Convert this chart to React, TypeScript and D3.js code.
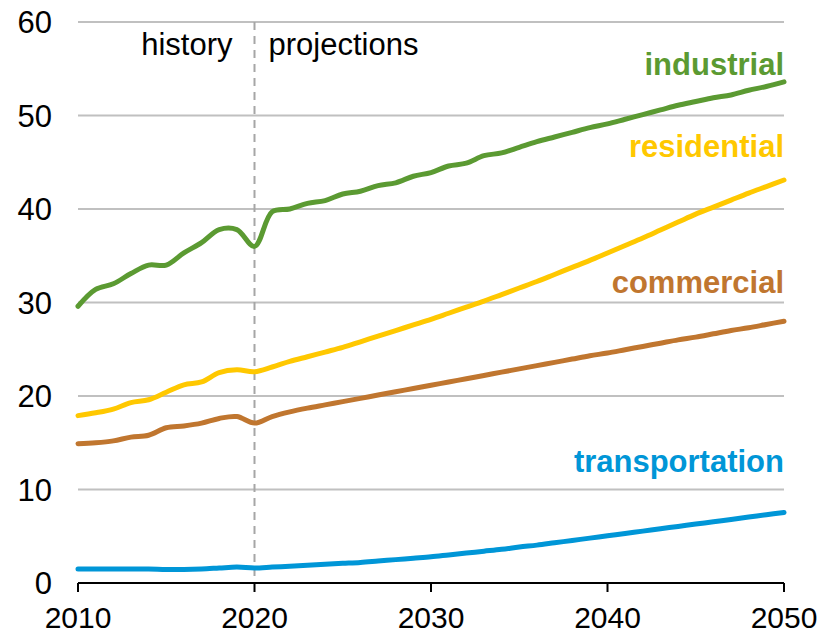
import React from 'react';
import * as d3 from 'd3';

const years = d3.range(2010, 2051);

const industrial = [29.6, 31.4, 32.0, 33.1, 34.0, 34.0, 35.3, 36.4, 37.8, 37.8, 36.0,
  39.7, 40.0, 40.6, 40.9, 41.6, 41.9, 42.5, 42.8, 43.5, 43.9, 44.6, 44.9, 45.7, 46.0,
  46.6, 47.2, 47.7, 48.2, 48.7, 49.1, 49.6, 50.1, 50.6, 51.1, 51.5, 51.9, 52.2, 52.7, 53.1, 53.6];
const residential = [17.9, 18.2, 18.6, 19.3, 19.6, 20.4, 21.2, 21.5, 22.5, 22.8, 22.6,
  23.1, 23.7, 24.2, 24.7, 25.2, 25.8, 26.4, 27.0, 27.6, 28.2, 28.85, 29.5, 30.15, 30.85,
  31.55, 32.25, 33.0, 33.75, 34.5, 35.3, 36.1, 36.9, 37.75, 38.6, 39.45, 40.2, 40.95, 41.7, 42.4, 43.1];
const commercial = [14.9, 15.0, 15.2, 15.6, 15.8, 16.6, 16.8, 17.1, 17.6, 17.8, 17.1,
  17.8, 18.3, 18.7, 19.05, 19.4, 19.75, 20.1, 20.45, 20.8, 21.15, 21.5, 21.85, 22.2, 22.55,
  22.9, 23.25, 23.6, 23.95, 24.3, 24.6, 24.95, 25.3, 25.65, 26.0, 26.3, 26.65, 27.0, 27.3, 27.65, 28.0];
const transportation = [1.5, 1.5, 1.5, 1.5, 1.5, 1.45, 1.45, 1.5, 1.6, 1.7, 1.6,
  1.7, 1.8, 1.9, 2.0, 2.1, 2.2, 2.35, 2.5, 2.65, 2.8, 3.0, 3.2, 3.4, 3.6,
  3.85, 4.05, 4.3, 4.55, 4.8, 5.05, 5.3, 5.55, 5.8, 6.05, 6.3, 6.55, 6.8, 7.05, 7.3, 7.55];

const seriesNames = ['industrial', 'residential', 'commercial', 'transportation'];
const seriesValues = [industrial, residential, commercial, transportation];
const seriesColors = ['#5b9a32', '#ffc800', '#c0762f', '#0096d7'];
// where each label sits (value on y axis, its baseline)
const labelAt = [54.3, 45.6, 31.0, 11.85];

const yTicks = [0, 10, 20, 30, 40, 50, 60];
const xTicks = [2010, 2020, 2030, 2040, 2050];
const dividerYear = 2020;

const App = () => {
  const width = 821, height = 635;
  const x = d3.scaleLinear().domain([2010, 2050]).range([78, 784]);
  const y = d3.scaleLinear().domain([0, 60]).range([583, 22]);

  const line = d3.line<number>()
    .x((d, i) => x(years[i]))
    .y(d => y(d))
    .curve(d3.curveCatmullRom.alpha(0.5));

  const font = '"Liberation Sans", Arial, sans-serif';

  return (
    <svg width={width} height={height} style={{ position: 'absolute', left: 0, top: 0 }}
      fontFamily={font}>
      <rect width={width} height={height} fill="#fff" />
      {yTicks.filter(t => t > 0).map(t => (
        <line key={t} x1={x(2010)} x2={x(2050)} y1={y(t)} y2={y(t)} stroke="#c0c0c0" strokeWidth={2} />
      ))}
      {yTicks.map(t => (
        <text key={t} x={52} y={y(t)} dy="0.36em" textAnchor="end" fontSize={31} fill="#000">{t}</text>
      ))}
      <line x1={x(dividerYear)} x2={x(dividerYear)} y1={y(60)} y2={y(0)}
        stroke="#a6a6a6" strokeWidth={2} strokeDasharray="8,6" />
      <text x={x(dividerYear) - 22} y={55} textAnchor="end" fontSize={31} fill="#000">history</text>
      <text x={x(dividerYear) + 14} y={55} textAnchor="start" fontSize={31} fill="#000">projections</text>

      {seriesValues.map((vals, i) => (
        <path key={seriesNames[i]} d={line(vals) || ''} fill="none" stroke={seriesColors[i]}
          strokeWidth={5} strokeLinecap="round" strokeLinejoin="round" />
      ))}
      {seriesNames.map((name, i) => (
        <text key={name} x={x(2050)} y={y(labelAt[i])} textAnchor="end" fontSize={31}
          fontWeight="bold" fill={seriesColors[i]}>{name}</text>
      ))}

      <g>
        <line x1={x(2010)} x2={x(2050)} y1={y(0)} y2={y(0)} stroke="#000" strokeWidth={2} />
        {xTicks.map(t => (
          <g key={t} transform={`translate(${x(t)},${y(0)})`}>
            <line y1={0} y2={9} stroke="#000" strokeWidth={2} />
            <text y={45} textAnchor="middle" fontSize={30} fill="#000">{t}</text>
          </g>
        ))}
      </g>
    </svg>
  );
};

export default App;
